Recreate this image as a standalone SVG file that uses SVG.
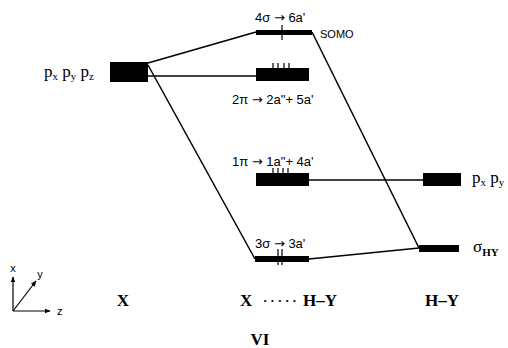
<svg xmlns="http://www.w3.org/2000/svg" width="508" height="348" viewBox="0 0 508 348">
<defs>
<style>
.bar{fill:#000}
.ln{stroke:#000;stroke-width:1.5;fill:none}
.tk{stroke:#000;stroke-width:1.2;fill:none}
.lv{font-family:"Liberation Sans",Arial,sans-serif;font-size:13px;fill:#000}
.ar{font-family:"DejaVu Sans",sans-serif;font-size:13px}
.orb{font-family:"Liberation Serif","Times New Roman",serif;font-size:17px;fill:#000}
.sub{font-size:11px}
.big{font-family:"Liberation Serif","Times New Roman",serif;font-size:17px;font-weight:bold;fill:#000}
.ax{font-family:"Liberation Sans",Arial,sans-serif;font-size:11px;fill:#000}
</style>
<marker id="ah" viewBox="0 0 10 10" refX="9" refY="5" markerWidth="6" markerHeight="6" orient="auto" markerUnits="userSpaceOnUse">
<path d="M0,1 L10,5 L0,9 z" fill="#000"/>
</marker>
</defs>
<rect width="508" height="348" fill="#fff"/>
<g id="connectors">
<line class="ln" x1="148" y1="63" x2="256" y2="32"/>
<line class="ln" x1="148" y1="76" x2="256" y2="76"/>
<line class="ln" x1="148" y1="65" x2="255" y2="259"/>
<line class="ln" x1="312" y1="32" x2="419" y2="248"/>
<line class="ln" x1="309" y1="180" x2="423" y2="180"/>
<line class="ln" x1="309" y1="259" x2="419" y2="248"/>
</g>
<g id="X-p">
<rect class="bar" x="110" y="62" width="38" height="20"/>
<text class="orb" x="44" y="77">p<tspan class="sub" dy="3">x</tspan><tspan dy="-3"> p</tspan><tspan class="sub" dy="3">y</tspan><tspan dy="-3"> p</tspan><tspan class="sub" dy="3">z</tspan></text>
</g>
<g id="somo">
<rect class="bar" x="256" y="30" width="56" height="5"/>
<line class="tk" x1="282" y1="25" x2="282" y2="40"/>
<text class="lv" x="255" y="22">4σ <tspan class="ar">→</tspan> 6a'</text>
<text class="lv" x="320" y="38" style="font-size:11px">SOMO</text>
</g>
<g id="pi2">
<rect class="bar" x="256" y="68" width="53" height="13"/>
<path class="tk" d="M273,63V68M278,63V68M284,63V68M289,63V68"/>
<text class="lv" x="232" y="104">2π <tspan class="ar">→</tspan> 2a"+ 5a'</text>
</g>
<g id="pi1">
<rect class="bar" x="256" y="173" width="53" height="13"/>
<path class="tk" d="M273,168V173M278,168V173M283,168V173M288,168V173"/>
<text class="lv" x="232" y="166">1π <tspan class="ar">→</tspan> 1a"+ 4a'</text>
</g>
<g id="sigma3">
<rect class="bar" x="255" y="256" width="54" height="6"/>
<path class="tk" d="M278,249V265M282,249V265"/>
<text class="lv" x="255" y="248">3σ <tspan class="ar">→</tspan> 3a'</text>
</g>
<g id="HY-p">
<rect class="bar" x="423" y="173" width="38" height="13"/>
<text class="orb" x="472" y="183">p<tspan class="sub" dy="3">x</tspan><tspan dy="-3"> p</tspan><tspan class="sub" dy="3">y</tspan></text>
</g>
<g id="sigmaHY">
<rect class="bar" x="419" y="245" width="40" height="7"/>
<text class="orb" x="473" y="252">σ<tspan class="sub" dy="4" style="font-weight:bold">HY</tspan></text>
</g>
<g id="axes">
<line class="tk" x1="13" y1="311" x2="13" y2="277" marker-end="url(#ah)"/>
<line class="tk" x1="13" y1="311" x2="36" y2="281" marker-end="url(#ah)"/>
<line class="tk" x1="13" y1="311" x2="50" y2="311" marker-end="url(#ah)"/>
<text class="ax" x="13" y="272" text-anchor="middle">x</text>
<text class="ax" x="40" y="278" text-anchor="middle">y</text>
<text class="ax" x="57" y="315">z</text>
</g>
<g id="labels">
<text class="big" x="123" y="306" text-anchor="middle">X</text>
<text class="big" x="240" y="306">X</text>
<text class="big" x="263" y="305" style="font-size:13px;letter-spacing:3px">·····</text>
<text class="big" x="303" y="306">H–Y</text>
<text class="big" x="425" y="306">H–Y</text>
<text class="big" x="260" y="345" text-anchor="middle">VI</text>
</g>
</svg>
